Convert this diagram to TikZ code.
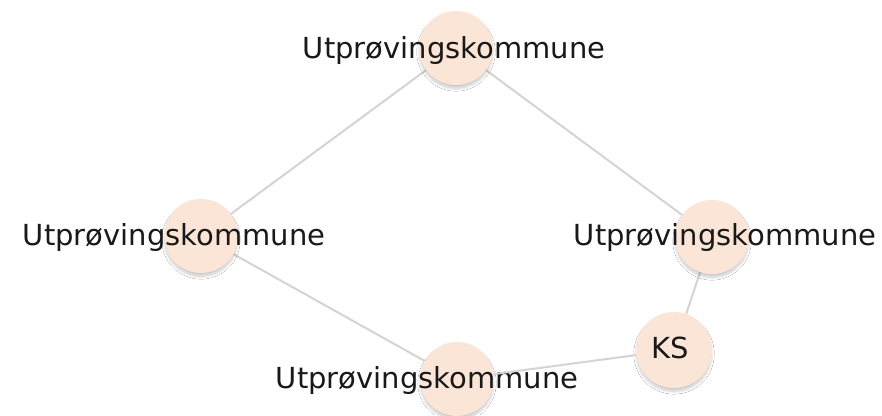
\documentclass[tikz,border=0pt]{standalone}
\usepackage{fontspec}
\setmainfont{DejaVu Sans}
\usetikzlibrary{shadows.blur,backgrounds}
\definecolor{peach}{HTML}{FBE5D6}
\definecolor{edgegray}{HTML}{D4D4D4}
\begin{document}
\begin{tikzpicture}[x=1pt,y=-1pt,
  bub/.style={circle, fill=peach, minimum size=74pt, inner sep=0pt,
    blur shadow={shadow xshift=0pt, shadow yshift=-4pt, shadow blur steps=10, shadow opacity=22, shadow blur radius=3pt, shadow scale=0.98}},
  lab/.style={anchor=base, inner sep=0pt, font=\fontsize{29}{34}\selectfont, text=black!90},
  edge/.style={draw=edgegray, line width=2pt}]
\useasboundingbox (0,0) rectangle (882,415);
% circles
\node[bub] (top) at (456,48) {};
\node[bub] (left) at (201,236) {};
\node[bub] (right) at (712,237) {};
\node[bub] (bot) at (457,379) {};
\node[bub, minimum size=76pt] (ks) at (674,350) {};
% edges behind the circles
\begin{scope}[on background layer]
\fill[white] (0,0) rectangle (882,415);
\path[edge] (top) -- (left);
\path[edge] (top) -- (right);
\path[edge] (left) -- (bot);
\path[edge] (right) -- (ks);
\end{scope}
% labels
\node[lab] (ltop) at (454,58) {Utprøvingskommune};
\node[lab] (lleft) at (174,245) {Utprøvingskommune};
\node[lab] (lright) at (725,245) {Utprøvingskommune};
\node[lab] (lbot) at (427,388) {Utprøvingskommune};
\node[lab] (lks) at (670,358) {KS};
\path[edge] (bot) -- (ks);
\end{tikzpicture}
\end{document}
